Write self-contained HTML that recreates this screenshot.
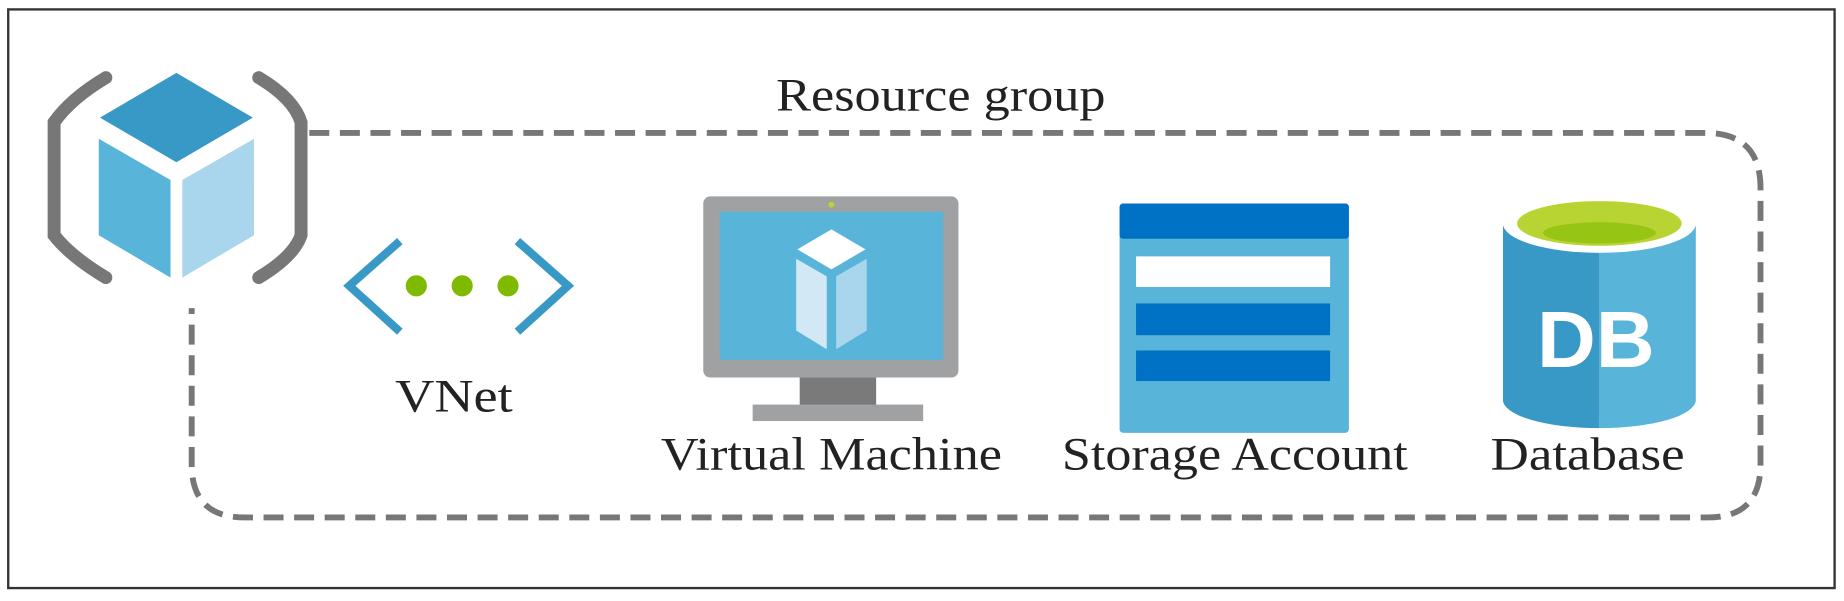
<!DOCTYPE html>
<html><head><meta charset="utf-8"><style>
html,body{margin:0;padding:0;background:#fff;}
svg{display:block;}
text{font-family:"Liberation Serif",serif;fill:#222;}
</style></head><body>
<svg width="1844" height="601" viewBox="0 0 1568 511" preserveAspectRatio="none" xmlns="http://www.w3.org/2000/svg">
<rect x="7" y="8" width="1553" height="492" fill="#fff" stroke="#333" stroke-width="2"/>
<!-- dashed group -->
<path d="M263 113 H1450 Q1497 113 1497 160 V395 Q1497 440 1452 440 H208 Q163 440 163 395 V262" fill="none" stroke="#777" stroke-width="5" stroke-dasharray="17 9"/>
<!-- resource group icon -->
<path d="M90 66 Q60 84 46 104 V200 Q60 218 90 236" fill="none" stroke="#777" stroke-width="11" stroke-linecap="round"/>
<path d="M220 66 Q250 84 256 104 V200 Q250 218 220 236" fill="none" stroke="#777" stroke-width="11" stroke-linecap="round"/>
<polygon points="150,62 215,100 150,138 85,100" fill="#3999C6"/>
<polygon points="84,118 145,153 145,236 84,200" fill="#59B4D9"/>
<polygon points="216,118 155,153 155,236 216,200" fill="#A9D6EC"/>
<!-- VNet -->
<polyline points="340,205 297,243 340,282" fill="none" stroke="#3999C6" stroke-width="7"/>
<polyline points="440,205 483,243 440,282" fill="none" stroke="#3999C6" stroke-width="7"/>
<circle cx="354" cy="243" r="9" fill="#7FBA00"/>
<circle cx="393" cy="243" r="9" fill="#7FBA00"/>
<circle cx="432" cy="243" r="9" fill="#7FBA00"/>
<text x="386" y="350" font-size="40" text-anchor="middle" textLength="100" lengthAdjust="spacingAndGlyphs">VNet</text>
<!-- VM -->
<rect x="598" y="167" width="217" height="154" rx="6" fill="#A0A1A2"/>
<rect x="612" y="180" width="190" height="126" fill="#59B4D9"/>
<circle cx="707" cy="174" r="2.5" fill="#B8D432"/>
<rect x="680" y="321" width="65" height="25" fill="#7A7A7A"/>
<rect x="640" y="344" width="145" height="14" fill="#A0A1A2"/>
<polygon points="707,195 736,212 707,229 678,212" fill="#fff"/>
<polygon points="677,220 703,235 703,297 677,281" fill="#D2E9F5"/>
<polygon points="737,220 711,235 711,297 737,281" fill="#A9D6EC"/>
<text x="707" y="399" font-size="40" text-anchor="middle" textLength="290" lengthAdjust="spacingAndGlyphs">Virtual Machine</text>
<!-- Storage -->
<rect x="952" y="173" width="195" height="195" rx="3" fill="#59B4D9"/>
<rect x="952" y="173" width="195" height="30" rx="3" fill="#0072C6"/>
<rect x="966" y="218" width="165" height="26" fill="#fff"/>
<rect x="966" y="258" width="165" height="27" fill="#0072C6"/>
<rect x="966" y="298" width="165" height="26" fill="#0072C6"/>
<text x="1050" y="399" font-size="40" text-anchor="middle" textLength="294" lengthAdjust="spacingAndGlyphs">Storage Account</text>
<!-- DB -->
<path d="M1278 192 V340 A82 24 0 0 0 1360 364 V192 Z" fill="#3999C6"/>
<path d="M1442 192 V340 A82 24 0 0 1 1360 364 V192 Z" fill="#59B4D9"/>
<ellipse cx="1360" cy="190" rx="82" ry="25" fill="#fff"/>
<ellipse cx="1360" cy="190" rx="70" ry="19" fill="#B8D432"/>
<ellipse cx="1360" cy="198" rx="48" ry="9" fill="#7FBA00" opacity="0.6"/>
<text x="1357" y="312" font-size="68" font-weight="bold" text-anchor="middle" textLength="100" lengthAdjust="spacingAndGlyphs" style="font-family:'Liberation Sans',sans-serif;fill:#fff">DB</text>
<text x="1350" y="399" font-size="40" text-anchor="middle" textLength="165" lengthAdjust="spacingAndGlyphs">Database</text>
<text x="800" y="94" font-size="40" text-anchor="middle" textLength="280" lengthAdjust="spacingAndGlyphs">Resource group</text>
</svg>
</body></html>
